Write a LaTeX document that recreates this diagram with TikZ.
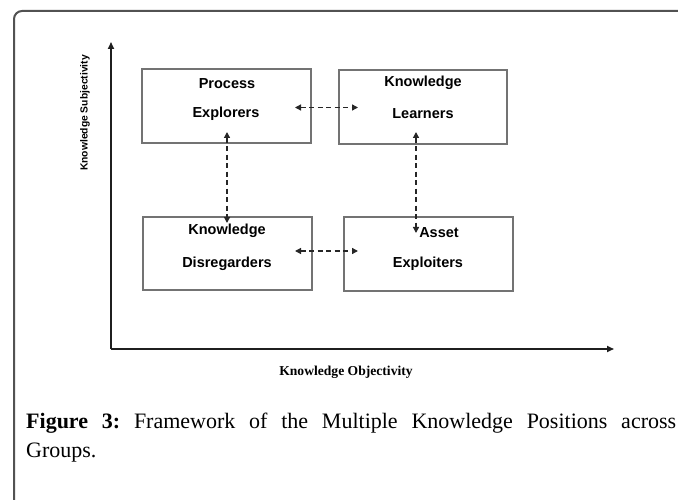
\documentclass[tikz,border=0pt]{standalone}
\usepackage{fontspec}
\setmainfont{Liberation Serif}
\newfontfamily\arialfont{Liberation Sans}
\usetikzlibrary{arrows.meta}
\frenchspacing
\tikzset{
  frameline/.style={draw=black!68, line width=2pt, rounded corners=8pt},
  axisline/.style={draw=black!88, line width=1.6pt, -{Triangle[length=7pt,width=6pt]}},
  posbox/.style={draw=black!55, line width=1.1pt, minimum width=169pt, minimum height=74pt, inner sep=0pt},
  boxtext/.style={font=\arialfont\bfseries\fontsize{14.5}{16}\selectfont, anchor=base, inner sep=0pt},
  dasharrow/.style={draw=black!85, line width=1.3pt, dash pattern=on 5pt off 3.5pt, {Triangle[length=6pt,width=6pt]}-{Triangle[length=6pt,width=6pt]}},
  axislabel/.style={inner sep=0pt}
}
\begin{document}
\begin{tikzpicture}[x=1pt,y=-1pt]
\useasboundingbox (0,0) rectangle (678,500);
\begin{scope}
\clip (0,0) rectangle (678,500);
\draw[frameline] (14,520) -- (14,11) -- (700,11);
\end{scope}
% axes
\coordinate (origin) at (111,349);
\coordinate (ytop) at (111,42);
\coordinate (xend) at (614,349);
\draw[axisline] (origin) -- (ytop);
\draw[axisline] (origin) -- (xend);
\node[axislabel, rotate=90, font=\arialfont\bfseries\fontsize{10.3}{11}\selectfont] (ylab) at (85,113) {Knowledge Subjectivity};
\node[axislabel, anchor=base, font=\bfseries\fontsize{13.6}{15}\selectfont] (xlab) at (346,375) {Knowledge Objectivity};
% boxes
\node[posbox, minimum width=169pt, minimum height=74pt] (pe) at (226.5,106) {};
\node[posbox, minimum width=168pt, minimum height=74pt] (kl) at (423,107) {};
\node[posbox, minimum width=169pt, minimum height=73pt] (kd) at (227.5,253.5) {};
\node[posbox, minimum width=169pt, minimum height=74pt] (ae) at (428.5,254) {};
% texts
\node[boxtext] (pe1) at (227,89) {Process};
\node[boxtext] (pe2) at (226,118) {Explorers};
\node[boxtext] (kl1) at (423,87) {Knowledge};
\node[boxtext] (kl2) at (423,119) {Learners};
\node[boxtext] (kd1) at (227,234) {Knowledge};
\node[boxtext] (kd2) at (227,267) {Disregarders};
\node[boxtext] (ae1) at (439,237) {Asset};
\node[boxtext] (ae2) at (428,267) {Exploiters};
% connector ends
\coordinate (pkA) at (295,107.5);
\coordinate (pkB) at (358,107.5);
\coordinate (daA) at (295,251);
\coordinate (daB) at (358,251);
\coordinate (pdA) at (227,132);
\coordinate (pdB) at (227,223);
\coordinate (laA) at (416,132);
\coordinate (laB) at (416,233);
\draw[dasharrow] (pkA) -- (pkB);
\draw[dasharrow] (daA) -- (daB);
\draw[dasharrow] (pdA) -- (pdB);
\draw[dasharrow] (laA) -- (laB);
% caption
\node[anchor=base west, inner sep=0pt, text width=650pt, align=justify, font=\fontsize{22}{29.5}\selectfont] (cap) at (26,428)
  {\textbf{Figure 3:} Framework of the Multiple Knowledge Positions across\linebreak Groups.};
\end{tikzpicture}
\end{document}
